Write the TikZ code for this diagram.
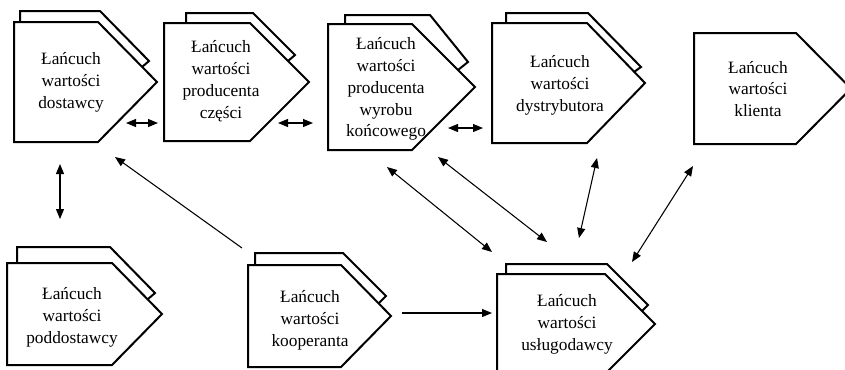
\documentclass[tikz,border=0pt]{standalone}
\usepackage{fontspec}
\setmainfont{Liberation Serif}
\newfontfamily\chainfont{Liberation Serif}
\usetikzlibrary{arrows.meta}
\begin{document}
\begin{tikzpicture}[x=0.75pt,y=-0.75pt,
  outline/.style={draw=black,line width=1.5pt,fill=white,line join=miter},
  chaintext/.style={align=center,inner sep=0pt,font=\chainfont\fontsize{13}{16.4}\selectfont},
  twoway/.style={line width=0.8pt,{Triangle[length=7.5pt,width=6pt]}-{Triangle[length=7.5pt,width=6pt]}},
  oneway/.style={line width=0.8pt,-{Triangle[length=7.5pt,width=6pt]}}]
\useasboundingbox (0,0) rectangle (845,369);

% supplier chain
\draw[outline] (20,22) -- (20,11) -- (100,11) -- (149,61) -- (142,67);
\draw[outline] (14,22) -- (98,22) -- (157,82) -- (98,142) -- (14,142) -- cycle;
\node[chaintext] (dostawcy) at (71,82) {Łańcuch\\wartości\\dostawcy};

% parts producer chain
\draw[outline] (186,23) -- (186,13) -- (253,13) -- (295,55) -- (288,61);
\draw[outline] (164,23) -- (250,23) -- (309,82) -- (250,141) -- (164,141) -- cycle;
\node[chaintext] (czesci) at (221,81) {Łańcuch\\wartości\\producenta\\części};

% end product producer chain
\draw[outline] (345,24) -- (345,15) -- (430,15) -- (468,62) -- (458,70);
\draw[outline] (328,24) -- (412,24) -- (475,87) -- (412,150) -- (328,150) -- cycle;
\node[chaintext] (koncowy) at (386,89) {Łańcuch\\wartości\\producenta\\wyrobu\\końcowego};

% distributor chain
\draw[outline] (506,23) -- (506,13) -- (588,13) -- (641,67) -- (634,72);
\draw[outline] (492,23) -- (587,23) -- (645,83) -- (587,143) -- (492,143) -- cycle;
\node[chaintext] (dystrybutor) at (560,85) {Łańcuch\\wartości\\dystrybutora};

% customer chain
\draw[outline] (694,33) -- (796,33) -- (851,88.5) -- (796,144) -- (694,144) -- cycle;
\node[chaintext] (klient) at (758,89) {Łańcuch\\wartości\\klienta};

% sub-supplier chain
\draw[outline] (17,263) -- (17,247) -- (110,247) -- (155,293) -- (148,299);
\draw[outline] (7,263) -- (112,263) -- (162,314) -- (112,365) -- (7,365) -- cycle;
\node[chaintext] (poddostawca) at (72,317) {Łańcuch\\wartości\\poddostawcy};

% cooperant chain
\draw[outline] (255,265) -- (255,253) -- (343,253) -- (386,296) -- (379,303);
\draw[outline] (248,265) -- (341,265) -- (391,316) -- (341,367) -- (248,367) -- cycle;
\node[chaintext] (kooperant) at (310,320) {Łańcuch\\wartości\\kooperanta};

% service provider chain
\draw[outline] (506,274) -- (506,264) -- (607,264) -- (648,305) -- (642,311);
\draw[outline] (497,274) -- (605,274) -- (655,324) -- (605,374) -- (497,374) -- cycle;
\node[chaintext] (uslugodawca) at (567,324) {Łańcuch\\wartości\\usługodawcy};

% connector end points
\coordinate (ab1) at (126,123); \coordinate (ab2) at (158,123);
\coordinate (bc1) at (278,123); \coordinate (bc2) at (313,123);
\coordinate (cd1) at (448,128); \coordinate (cd2) at (483,128);
\coordinate (af1) at (60,164);  \coordinate (af2) at (60,219);
\coordinate (ga1) at (242,248); \coordinate (ga2) at (115,157);
\coordinate (ch1) at (387,167); \coordinate (ch2) at (492,252);
\coordinate (ck1) at (438,157); \coordinate (ck2) at (547,242);
\coordinate (dh1) at (597,158); \coordinate (dh2) at (579,238);
\coordinate (eh1) at (693,166); \coordinate (eh2) at (632,262);
\coordinate (gh1) at (402,313); \coordinate (gh2) at (492,313);

% connectors
\draw[twoway] (ab1) -- (ab2);
\draw[twoway] (bc1) -- (bc2);
\draw[twoway] (cd1) -- (cd2);
\draw[twoway] (af1) -- (af2);
\draw[oneway] (ga1) -- (ga2);
\draw[twoway] (ch1) -- (ch2);
\draw[twoway] (ck1) -- (ck2);
\draw[twoway] (dh1) -- (dh2);
\draw[twoway] (eh1) -- (eh2);
\draw[oneway] (gh1) -- (gh2);
\end{tikzpicture}
\end{document}
